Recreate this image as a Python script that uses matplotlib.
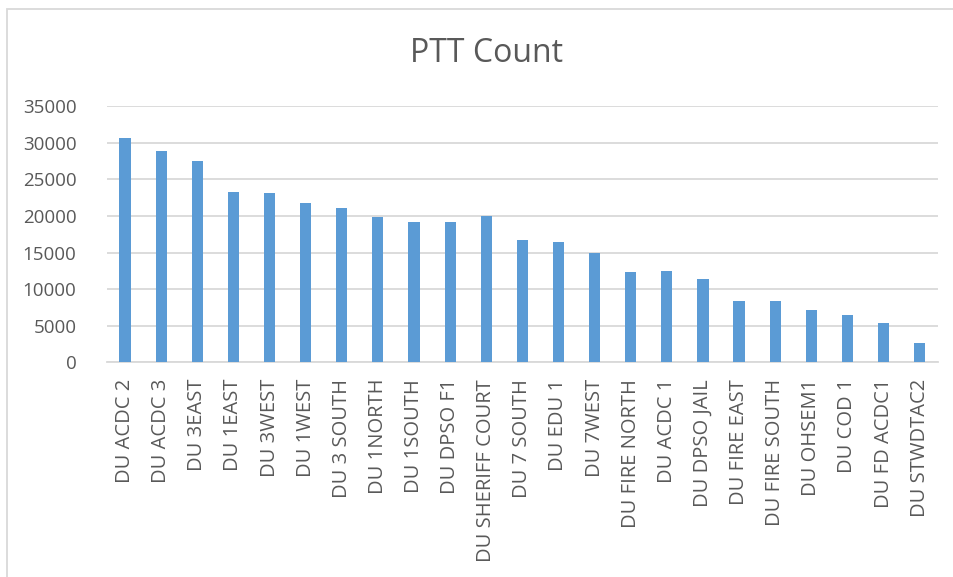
import matplotlib
matplotlib.use("Agg")
import matplotlib.pyplot as plt
from matplotlib.patches import Rectangle

categories = ["DU ACDC 2", "DU ACDC 3", "DU 3EAST", "DU 1EAST", "DU 3WEST", "DU 1WEST",
              "DU 3 SOUTH", "DU 1NORTH", "DU 1SOUTH", "DU DPSO F1", "DU SHERIFF COURT",
              "DU 7 SOUTH", "DU EDU 1", "DU 7WEST", "DU FIRE NORTH", "DU ACDC 1",
              "DU DPSO JAIL", "DU FIRE EAST", "DU FIRE SOUTH", "DU OHSEM1", "DU COD 1",
              "DU FD ACDC1", "DU STWDTAC2"]
values = [30700, 28900, 27500, 23300, 23100, 21800, 21100, 19800, 19200, 19200, 20000,
          16700, 16400, 14950, 12300, 12450, 11350, 8400, 8400, 7150, 6400, 5400, 2650]
yticks = [0, 5000, 10000, 15000, 20000, 25000, 30000, 35000]
title = "PTT Count"

plt.rcParams['font.family'] = ['Open Sans', 'DejaVu Sans']
W, H = 954, 577
fig = plt.figure(figsize=(W / 100, H / 100), dpi=100)
ax = fig.add_axes([107 / W, 1 - 362.3 / H, (937.7 - 107) / W, (362.3 - 106.3) / H])

x = list(range(len(categories)))
ax.bar(x, values, width=0.31, color="#5B9BD5", zorder=3)
ax.set_xlim(-0.5, len(categories) - 0.5)
ax.set_ylim(0, 35000)
ax.set_yticks(yticks)
ax.set_yticklabels([str(v) for v in yticks])
ax.set_xticks(x)
ax.set_xticklabels(categories, rotation=90)
ax.yaxis.grid(True, color="#D9D9D9", linewidth=1.3, zorder=0)
for s in ["top", "right", "left"]:
    ax.spines[s].set_visible(False)
ax.spines["bottom"].set_color("#D9D9D9")
ax.spines["bottom"].set_linewidth(1.3)
ax.tick_params(axis="both", length=0, colors="#595959")
ax.tick_params(axis="y", pad=22, labelsize=13.5)
ax.tick_params(axis="x", pad=12, labelsize=14.5)

fig.text(487 / W, 1 - 53 / H, title, ha="center", va="center", fontsize=23, color="#595959")

fig.patches.append(Rectangle((7.5 / W, -0.1), 1.2, 1.1 - 8.5 / H, transform=fig.transFigure,
                             fill=False, edgecolor="#D9D9D9", linewidth=1.3))

fig.savefig("out.png", dpi=100)
